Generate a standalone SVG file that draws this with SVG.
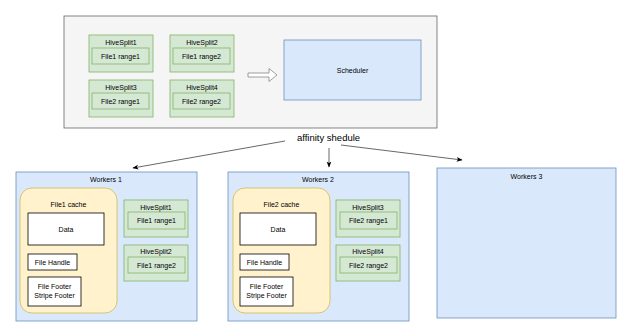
<svg xmlns="http://www.w3.org/2000/svg" width="624" height="331" viewBox="0 0 624 331">
<defs>
<marker id="ah" viewBox="0 0 10 10" refX="9" refY="5" markerWidth="6" markerHeight="6" markerUnits="userSpaceOnUse" orient="auto">
<path d="M0,1 L10,5 L0,9 L2.5,5 Z" fill="#000"/>
</marker>
<style>
text{font-family:"Liberation Sans",Arial,sans-serif;font-size:7px;fill:#000;text-anchor:middle}
.gray{fill:#f5f5f5;stroke:#666;stroke-width:0.8}
.green{fill:#d5e8d4;stroke:#82b366;stroke-width:0.8}
.blue{fill:#dae8fc;stroke:#6c8ebf;stroke-width:0.8}
.yellow{fill:#fff2cc;stroke:#d6b656;stroke-width:0.8}
.white{fill:#fff;stroke:#000;stroke-width:0.8}
.edge{fill:none;stroke:#000;stroke-width:0.6;marker-end:url(#ah)}
</style>
</defs>
<rect width="624" height="331" fill="#fff"/>
<g id="master">
<rect class="gray" x="64" y="16" width="373" height="112"/>
</g>
<g id="hivesplit1"><rect class="green" x="89" y="35" width="64" height="37"/><text x="121" y="44.5">HiveSplit1</text><rect class="green" x="92" y="48" width="57" height="16"/><text x="120.5" y="58.5">File1 range1</text></g>
<g id="hivesplit2"><rect class="green" x="170" y="35" width="64" height="37"/><text x="202" y="44.5">HiveSplit2</text><rect class="green" x="173" y="48" width="57" height="16"/><text x="201.5" y="58.5">File1 range2</text></g>
<g id="hivesplit3"><rect class="green" x="89" y="80" width="64" height="37"/><text x="121" y="89.5">HiveSplit3</text><rect class="green" x="92" y="93" width="57" height="16"/><text x="120.5" y="103.5">File2 range1</text></g>
<g id="hivesplit4"><rect class="green" x="170" y="80" width="64" height="37"/><text x="202" y="89.5">HiveSplit4</text><rect class="green" x="173" y="93" width="57" height="16"/><text x="201.5" y="103.5">File2 range2</text></g>
<g id="scheduler"><rect class="blue" x="284" y="40" width="137" height="60"/><text x="352.5" y="72.5">Scheduler</text></g>
<g id="workers1">
<rect class="blue" x="16" y="172" width="181" height="149"/>
<text x="106" y="182">Workers 1</text>
<rect class="yellow" x="20" y="188" width="97" height="125" rx="12"/>
<text x="68.5" y="207">File1 cache</text>
<rect class="white" x="28" y="213" width="76" height="32"/><text x="66" y="231.5">Data</text>
<rect class="white" x="28" y="254" width="49" height="16"/><text x="52.5" y="264.5">File Handle</text>
<rect class="white" x="28" y="277" width="53" height="29"/><text x="54.5" y="289">File Footer</text><text x="54.5" y="298">Stripe Footer</text>
<rect class="green" x="124" y="200" width="64" height="37"/><text x="156" y="209.5">HiveSplit1</text><rect class="green" x="128" y="212" width="57" height="17"/><text x="156.5" y="223">File1 range1</text>
<rect class="green" x="124" y="245" width="64" height="36"/><text x="156" y="253.5">HiveSplit2</text><rect class="green" x="128" y="257" width="57" height="16"/><text x="156.5" y="267.5">File1 range2</text>
</g>
<g id="workers2">
<rect class="blue" x="228" y="172" width="181" height="149"/>
<text x="318" y="182">Workers 2</text>
<rect class="yellow" x="233" y="188" width="97" height="125" rx="12"/>
<text x="281.5" y="207">File2 cache</text>
<rect class="white" x="240" y="213" width="76" height="32"/><text x="278" y="231.5">Data</text>
<rect class="white" x="240" y="254" width="49" height="16"/><text x="264.5" y="264.5">File Handle</text>
<rect class="white" x="240" y="277" width="53" height="29"/><text x="266.5" y="289">File Footer</text><text x="266.5" y="298">Stripe Footer</text>
<rect class="green" x="336" y="200" width="64" height="37"/><text x="368" y="209.5">HiveSplit3</text><rect class="green" x="340" y="212" width="57" height="17"/><text x="368.5" y="223">File2 range1</text>
<rect class="green" x="336" y="245" width="64" height="36"/><text x="368" y="253.5">HiveSplit4</text><rect class="green" x="340" y="257" width="57" height="16"/><text x="368.5" y="267.5">File2 range2</text>
</g>
<g id="workers3">
<rect class="blue" x="437" y="168" width="179" height="150"/>
<text x="526.5" y="178.5">Workers 3</text>
</g>
<g id="connectors">
<path d="M248,73 L269,73 L269,68.5 L277,75 L269,81.5 L269,77 L248,77 Z" fill="#fff" stroke="#777" stroke-width="0.7"/>
<path class="edge" d="M285,141 L133,168"/>
<path class="edge" d="M329,148 L329,167"/>
<path class="edge" d="M341,145 L462,160"/>
<text x="328.5" y="140.5" style="font-size:9.5px">affinity shedule</text>
</g>
</svg>
